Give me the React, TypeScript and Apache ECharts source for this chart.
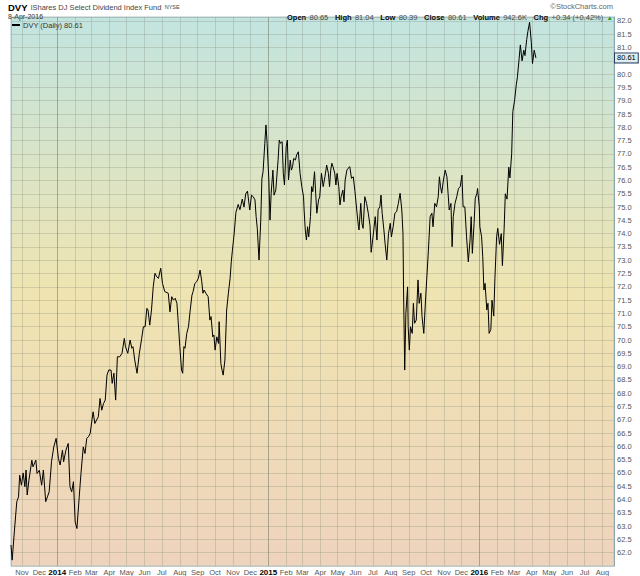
import { useEffect, useRef } from 'react';
import * as echarts from 'echarts';

// ---- data ----
const BASE_DATE = '2014-01-01'; // day offsets below count from this date
const dayOffsets = [
  -80, -78, -74, -70, -67, -65, -62, -59, -56, -54, -52, -49, -44, -42, -37, -35, -31, -27, -24, -20,
  -17, -14, -11, -10, -6, -2, 2, 5, 9, 11, 15, 19, 22, 25, 28, 31, 34, 38, 41, 45,
  48, 51, 54, 57, 60, 62, 65, 68, 71, 74, 77, 80, 83, 86, 89, 93, 95, 98, 101, 104,
  108, 112, 116, 118, 122, 126, 129, 131, 134, 138, 142, 146, 149, 152, 155, 157, 160, 163, 166, 169,
  172, 175, 179, 182, 186, 192, 195, 198, 201, 204, 207, 209, 212, 215, 217, 219, 221, 224, 227, 230,
  233, 235, 238, 241, 244, 247, 250, 252, 254, 257, 261, 264, 266, 269, 271, 273, 276, 279, 280, 283,
  285, 287, 290, 293, 296, 299, 301, 303, 306, 309, 313, 316, 320, 323, 326, 329, 333, 336, 339, 342,
  344, 346, 349, 352, 354, 356, 359, 361, 363, 366, 368, 370, 373, 375, 378, 382, 384, 386, 389, 391,
  393, 396, 398, 400, 403, 405, 407, 409, 412, 414, 417, 420, 423, 426, 427, 429, 431, 433, 435, 438,
  440, 442, 445, 447, 449, 452, 454, 457, 460, 463, 466, 469, 471, 473, 475, 477, 480, 482, 484, 487,
  489, 491, 494, 496, 498, 501, 503, 506, 509, 512, 515, 518, 521, 522, 525, 527, 529, 532, 535, 538,
  541, 543, 546, 550, 553, 555, 558, 560, 562, 565, 567, 570, 573, 576, 578, 581, 584, 587, 590, 593,
  596, 598, 599, 601, 603, 606, 607, 609, 611, 614, 616, 618, 621, 624, 626, 629, 631, 634, 637, 639,
  642, 645, 648, 650, 653, 656, 659, 661, 663, 665, 668, 671, 674, 676, 678, 681, 683, 685, 688, 691,
  694, 697, 700, 702, 705, 708, 711, 714, 716, 718, 721, 723, 726, 727, 730, 731, 734, 736, 738, 740,
  743, 745, 747, 750, 752, 755, 757, 760, 762, 765, 768, 770, 773, 775, 778, 781, 783, 786, 788, 791,
  794, 796, 799, 801, 804, 807, 809, 812, 814, 817, 820, 822, 825, 828,
];
const closes = [
  62.29, 61.72, 62.85, 63.92, 64.1, 64.92, 64.54, 65.0, 64.48, 65.11, 64.17, 64.73, 65.48, 65.23, 65.48, 64.98, 65.1, 64.54, 65.11, 63.92,
  64.1, 64.29, 65.11, 65.42, 65.98, 66.3, 65.55, 65.3, 65.86, 65.42, 65.86, 66.11, 64.48, 64.29, 64.67, 63.16, 62.91, 64.1, 64.98, 65.98,
  65.73, 66.3, 66.36, 66.49, 66.99, 67.3, 66.86, 66.99, 67.11, 67.8, 67.36, 67.61, 67.74, 68.68, 68.87, 68.87, 68.37, 68.75, 67.74, 69.37,
  69.37, 69.5, 70.06, 69.75, 69.5, 70.0, 69.69, 69.75, 69.25, 68.75, 69.5, 70.06, 70.5, 70.5, 71.19, 71.13, 70.56, 71.13, 72.0, 72.51,
  72.38, 72.32, 72.7, 72.13, 71.82, 71.76, 71.06, 71.63, 71.5, 71.57, 71.38, 70.75, 69.75, 68.87, 68.75, 69.75, 69.69, 70.25, 70.5, 71.13,
  71.69, 71.82, 72.13, 72.19, 72.32, 72.63, 72.19, 71.76, 71.88, 71.76, 71.63, 70.75, 70.88, 70.12, 70.19, 69.62, 70.12, 69.87, 70.69, 69.12,
  68.87, 68.68, 69.25, 71.13, 71.76, 72.32, 72.94, 73.38, 74.0, 74.8, 75.1, 74.9, 75.3, 75.0, 75.5, 75.6, 74.89, 75.45, 75.39, 75.27,
  74.64, 74.2, 73.01, 74.51, 76.08, 76.33, 77.4, 78.09, 77.4, 76.02, 74.51, 75.52, 76.39, 75.45, 75.64, 76.77, 77.52, 77.4, 77.46, 76.27,
  75.83, 77.27, 77.52, 76.02, 76.77, 76.39, 76.52, 76.83, 76.77, 76.96, 77.08, 76.27, 75.77, 75.39, 74.89, 74.14, 73.76, 74.26, 73.88, 74.64,
  75.77, 75.58, 76.33, 75.52, 74.77, 75.27, 75.39, 76.27, 75.77, 76.14, 76.58, 76.27, 75.77, 76.39, 76.65, 76.52, 76.27, 75.83, 76.27, 75.77,
  75.08, 75.39, 75.64, 75.2, 76.02, 76.39, 76.46, 76.52, 76.08, 76.14, 75.58, 74.89, 74.26, 74.14, 75.14, 74.39, 74.2, 75.39, 75.14, 74.77,
  74.3, 73.3, 73.85, 74.64, 73.76, 74.9, 75.01, 75.45, 74.77, 74.14, 73.64, 73.01, 74.01, 74.39, 73.88, 74.26, 74.77, 74.83, 75.14, 75.52,
  74.89, 74.01, 71.88, 68.87, 71.0, 72.0, 70.5, 69.62, 70.5, 70.25, 71.38, 70.63, 70.75, 72.26, 71.38, 71.76, 70.88, 70.25, 71.5, 72.26,
  73.38, 74.64, 74.77, 74.26, 75.14, 75.01, 75.39, 76.14, 75.77, 75.52, 76.02, 76.39, 76.14, 75.52, 74.89, 75.14, 73.51, 74.64, 75.14, 75.39,
  75.7, 75.77, 76.2, 75.01, 75.01, 73.88, 72.94, 73.76, 74.64, 73.26, 74.39, 75.33, 75.52, 75.7, 75.01, 74.26, 73.88, 73.13, 71.88, 72.13,
  71.13, 71.38, 70.25, 70.4, 71.5, 70.9, 72.3, 73.9, 74.2, 73.6, 74.0, 72.8, 74.2, 75.5, 75.3, 76.5, 76.1, 77.0, 78.6, 79.0,
  79.6, 79.9, 80.6, 81.1, 80.5, 80.9, 80.7, 81.3, 81.6, 81.95, 81.2, 80.4, 80.9, 80.61,
];
const yearStarts = ['2014-01-01', '2015-01-01', '2016-01-01'];
const monthNames = ['Jan', 'Feb', 'Mar', 'Apr', 'May', 'Jun', 'Jul', 'Aug', 'Sep', 'Oct', 'Nov', 'Dec'];
const X_MIN = '2013-10-13';
const X_MAX = '2016-08-21';
const Y_MIN = 61.5;
const Y_MAX = 82.15;
const Y_STEP = 0.5;

const TICKER = 'DVY';
const FUND_NAME = 'iShares DJ Select Dividend Index Fund';
const EXCHANGE = 'NYSE';
const QUOTE_DATE = '8-Apr-2016';
const quoteLabels = ['Open', 'High', 'Low', 'Close', 'Volume', 'Chg'];
const quoteValues = ['80.65', '81.04', '80.39', '80.61', '942.6K', '+0.34 (+0.42%)'];
const LAST_CLOSE = 80.61;

const DAY = 86400000;
const FONT = 'Liberation Sans, Arial, sans-serif';
const GRID_COLOR = 'rgba(130,135,115,0.28)';

export default function App() {
  const ref = useRef<HTMLDivElement>(null);

  useEffect(() => {
    document.body.style.margin = '0';
    if (!ref.current) return;
    const chart = echarts.init(ref.current, undefined, { renderer: 'svg' });
    const base = Date.parse(BASE_DATE);
    const seriesData = dayOffsets.map((d, i) => [base + d * DAY, closes[i]]);

    const quoteRich = quoteLabels
      .map((l, i) => `{b|${l}} {v|${quoteValues[i]}}`)
      .join('  ') + ' {up|▲}';

    const option: any = {
      animation: false,
      useUTC: true,
      textStyle: { fontFamily: FONT },
      grid: {
        left: 11,
        right: 26,
        top: 17,
        bottom: 10,
        show: true,
        borderColor: '#b3c5c8',
        borderWidth: 1,
        backgroundColor: new echarts.graphic.LinearGradient(0, 0, 0, 1, [
          { offset: 0, color: '#c2e4e0' },
          { offset: 0.5, color: '#efe4b1' },
          { offset: 1, color: '#eed3bd' },
        ]),
      },
      legend: {
        left: 12,
        top: 21,
        padding: 0,
        icon: 'rect',
        itemWidth: 8,
        itemHeight: 2,
        itemGap: 4,
        data: ['DVY (Daily)'],
        formatter: (name: string) => `${name} ${LAST_CLOSE.toFixed(2)}`,
        textStyle: { fontSize: 7.5, color: '#333', fontFamily: FONT, padding: [0, 0, 0, -2] },
        selectedMode: false,
      },
      xAxis: {
        type: 'time',
        min: X_MIN,
        max: X_MAX,
        minInterval: 28 * DAY,
        maxInterval: 31 * DAY,
        splitNumber: 34,
        axisLine: { show: false },
        axisTick: { show: false },
        splitLine: { show: true, lineStyle: { color: GRID_COLOR, width: 1 } },
        axisLabel: {
          margin: 2,
          fontSize: 7.5,
          color: '#555',
          fontFamily: FONT,
          hideOverlap: false,
          formatter: (v: number) => {
            const d = new Date(v);
            if (d.getUTCDate() !== 1) return '';
            return d.getUTCMonth() === 0 ? `{y|${d.getUTCFullYear()}}` : monthNames[d.getUTCMonth()];
          },
          rich: { y: { fontWeight: 'bold', color: '#000', fontSize: 8, fontFamily: FONT } },
        },
      },
      yAxis: {
        type: 'value',
        position: 'right',
        min: Y_MIN,
        max: Y_MAX,
        interval: Y_STEP,
        axisLine: { show: true, lineStyle: { color: '#7d9ea6', type: 'dotted', width: 1 } },
        axisTick: { show: false },
        splitLine: { show: true, lineStyle: { color: GRID_COLOR, width: 1 } },
        axisLabel: {
          margin: 3,
          fontSize: 7.5,
          color: '#555',
          fontFamily: FONT,
          formatter: (v: number) => {
            const k = v / Y_STEP;
            if (Math.abs(k - Math.round(k)) > 1e-6 || v < 61.9 || v > 82.01) return '';
            // the last-close tag covers the neighbouring tick label
            if (Math.abs(v - LAST_CLOSE) < Y_STEP * 0.5) return '';
            return v.toFixed(1);
          },
        },
      },
      series: [
        {
          name: 'DVY (Daily)',
          type: 'line',
          data: seriesData,
          showSymbol: false,
          symbol: 'none',
          color: '#000',
          lineStyle: { color: '#000', width: 1 },
          emphasis: { disabled: true },
          silent: true,
          z: 5,
          markLine: {
            silent: true,
            symbol: ['none', 'none'],
            animation: false,
            data: [
              ...yearStarts.map((d) => ({
                xAxis: Date.parse(d),
                lineStyle: { color: 'rgba(105,115,95,0.38)', width: 1, type: 'solid' },
                label: { show: false },
              })),
              {
                yAxis: LAST_CLOSE,
                lineStyle: { color: 'rgba(0,0,0,0)', width: 0 },
                label: {
                  show: true,
                  position: 'end',
                  distance: 1,
                  formatter: LAST_CLOSE.toFixed(2),
                  fontSize: 7.5,
                  fontFamily: FONT,
                  color: '#000',
                  backgroundColor: '#dcefee',
                  borderColor: '#2b3b60',
                  borderWidth: 1,
                  padding: [1, 2, 0, 2],
                },
              },
            ],
          },
        },
      ],
      graphic: [
        {
          type: 'text',
          x: 8,
          y: 1,
          style: {
            text: `{t|${TICKER}} {n|${FUND_NAME}} {e|${EXCHANGE}}`,
            rich: {
              t: { fontSize: 9.5, fontWeight: 'bold', fill: '#000', fontFamily: FONT, lineHeight: 11 },
              n: { fontSize: 7.5, fill: '#444', fontFamily: FONT, lineHeight: 11 },
              e: { fontSize: 5.5, fill: '#444', fontFamily: FONT, lineHeight: 11 },
            },
            verticalAlign: 'top',
          },
        },
        {
          type: 'text',
          x: 8,
          y: 13,
          style: { text: QUOTE_DATE, fontSize: 7, fill: '#333', fontFamily: FONT, verticalAlign: 'top' },
        },
        {
          type: 'text',
          x: 613,
          y: 2,
          style: {
            text: '©StockCharts.com',
            fontSize: 7.5,
            fill: '#666',
            fontFamily: FONT,
            align: 'right',
            verticalAlign: 'top',
          },
        },
        {
          type: 'text',
          x: 613,
          y: 11,
          style: {
            text: quoteRich,
            align: 'right',
            verticalAlign: 'top',
            rich: {
              b: { fontSize: 7.5, fontWeight: 'bold', fill: '#000', fontFamily: FONT },
              v: { fontSize: 7.5, fill: '#444', fontFamily: FONT },
              up: { fontSize: 6.5, fill: '#2f9a2f', fontFamily: FONT },
            },
          },
        },
      ],
    };

    chart.setOption(option);
    return () => chart.dispose();
  }, []);

  return <div ref={ref} style={{ width: 640, height: 576 }} />;
}
